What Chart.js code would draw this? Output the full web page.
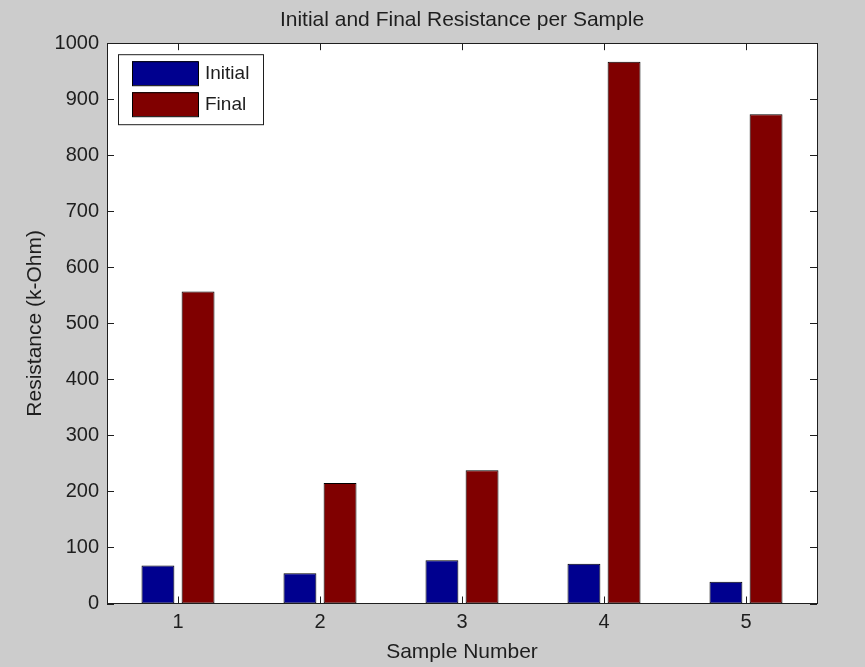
<!DOCTYPE html>
<html>
<head>
<meta charset="utf-8">
<script src="https://cdn.jsdelivr.net/npm/chart.js@4/dist/chart.umd.min.js"></script>
<style>
  html, body { margin: 0; padding: 0; background: #cccccc; }
  #wrap { width: 865px; height: 667px; }
</style>
</head>
<body>
<div id="wrap"><canvas id="c" width="865" height="667"></canvas></div>
<script>
const samples = ['1', '2', '3', '4', '5'];
const initialRes = [68, 54, 77, 71, 39];
const finalRes = [557, 215, 238, 967, 873];
const yTicksMax = 1000;
const yStep = 100;

const FONT = '"Liberation Sans", Arial, Helvetica, sans-serif';
const INK = '#1e1e1e';

// matlab-ish frame: gray figure, white axes, box with inward ticks, legend in the corner
const matlabFrame = {
    id: 'matlabFrame',
    beforeDraw(chart) {
        const ctx = chart.ctx;
        const a = chart.chartArea;
        ctx.save();
        ctx.fillStyle = '#cccccc';
        ctx.fillRect(0, 0, chart.width, chart.height);
        ctx.fillStyle = '#ffffff';
        ctx.fillRect(a.left, a.top, a.right - a.left, a.bottom - a.top);
        ctx.restore();
    },
    afterDatasetsDraw(chart) {
        const ctx = chart.ctx;
        const a = chart.chartArea;
        const xs = chart.scales.x, ys = chart.scales.y;
        const len = 7;
        ctx.save();
        ctx.strokeStyle = INK;
        ctx.lineWidth = 1;
        ctx.beginPath();
        ys.ticks.forEach(t => {
            const y = Math.round(ys.getPixelForValue(t.value)) + 0.5;
            ctx.moveTo(a.left, y); ctx.lineTo(a.left + len, y);
            ctx.moveTo(a.right, y); ctx.lineTo(a.right - len, y);
        });
        xs.ticks.forEach((t, i) => {
            const x = Math.round(xs.getPixelForTick(i)) + 0.5;
            ctx.moveTo(x, a.bottom); ctx.lineTo(x, a.bottom - len);
            ctx.moveTo(x, a.top); ctx.lineTo(x, a.top + len);
        });
        ctx.stroke();
        ctx.strokeRect(Math.round(a.left) + 0.5, Math.round(a.top) + 0.5,
                       Math.round(a.right - a.left), Math.round(a.bottom - a.top));

        // legend box
        const lx = a.left + 11, ly = a.top + 11, lw = 145, lh = 70;
        ctx.fillStyle = '#ffffff';
        ctx.fillRect(lx, ly, lw, lh);
        ctx.strokeRect(lx + 0.5, ly + 0.5, lw, lh);
        ctx.font = '19px ' + FONT;
        ctx.textBaseline = 'middle';
        chart.data.datasets.forEach((ds, i) => {
            const ry = ly + 7 + i * 31;
            ctx.fillStyle = ds.backgroundColor;
            ctx.fillRect(lx + 14, ry, 66, 24);
            ctx.strokeStyle = '#000000';
            ctx.strokeRect(lx + 14.5, ry + 0.5, 66, 24);
            ctx.fillStyle = INK;
            ctx.fillText(ds.label, lx + 87, ry + 13);
        });
        ctx.restore();
    }
};

new Chart(document.getElementById('c'), {
    type: 'bar',
    data: {
        labels: samples,
        datasets: [
            { label: 'Initial', data: initialRes, backgroundColor: '#00008f',
              borderColor: '#000000', borderWidth: 1, borderSkipped: false },
            { label: 'Final', data: finalRes, backgroundColor: '#800000',
              borderColor: '#000000', borderWidth: 1, borderSkipped: false }
        ]
    },
    options: {
        responsive: false,
        animation: false,
        devicePixelRatio: 1,
        categoryPercentage: 0.565,
        barPercentage: 0.82,
        layout: { padding: { left: 0, right: 48, top: 0, bottom: 0 } },
        plugins: {
            legend: { display: false },
            tooltip: { enabled: false },
            title: {
                display: true,
                fullSize: false,
                text: 'Initial and Final Resistance per Sample',
                color: INK,
                font: { family: FONT, size: 21, weight: 'normal', lineHeight: 1.2 },
                padding: { top: 8, bottom: 10 }
            }
        },
        scales: {
            x: {
                grid: { display: false, drawTicks: false },
                border: { display: false },
                ticks: { color: INK, padding: 7, font: { family: FONT, size: 20 } },
                title: { display: true, text: 'Sample Number', color: INK, padding: 2,
                         font: { family: FONT, size: 21 } },
                afterFit(s) { s.height = 63.5; }
            },
            y: {
                min: 0,
                max: yTicksMax,
                grid: { display: false, drawTicks: false },
                border: { display: false },
                ticks: { stepSize: yStep, color: INK, padding: 8, font: { family: FONT, size: 20 },
                         callback: v => String(v) },
                title: { display: true, text: 'Resistance (k-Ohm)', color: INK, padding: 23,
                         font: { family: FONT, size: 21 } },
                afterFit(s) { s.width = 107; }
            }
        }
    },
    plugins: [matlabFrame]
});
</script>
</body>
</html>
